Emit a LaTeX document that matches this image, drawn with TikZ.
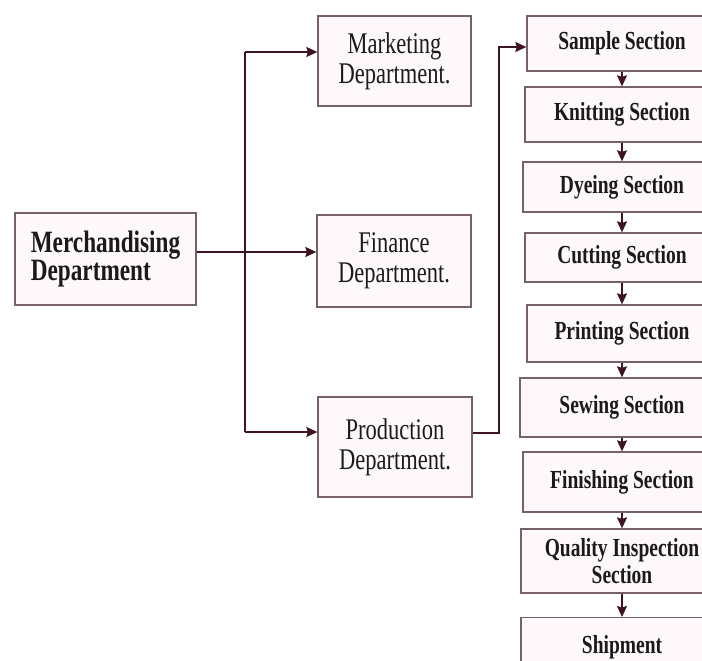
\documentclass[tikz,border=0pt]{standalone}
\usepackage{fontspec}
\setmainfont{Liberation Serif}[FakeStretch=0.75]
\usetikzlibrary{arrows.meta}
\definecolor{boxcol}{HTML}{76606B}
\definecolor{boxfill}{HTML}{FFF8FA}
\definecolor{linecol}{HTML}{3E1424}
\definecolor{txtcol}{HTML}{1A1A1A}
\tikzset{
  box/.style={draw=boxcol, fill=boxfill, line width=1.3pt, inner sep=0pt, text=txtcol, align=center},
  mbox/.style={box, font=\bfseries\fontsize{31}{27}\selectfont, align=left},
  dbox/.style={box, font=\fontsize{30}{30}\selectfont},
  sbox/.style={box, font=\bfseries\fontsize{26}{27}\selectfont},
  conn/.style={draw=linecol, line width=1.5pt},
  arr/.style={conn, -{Stealth[length=11pt,width=10pt,inset=1.5pt]}}
}
\begin{document}
\begin{tikzpicture}[x=1pt,y=-1pt]
\useasboundingbox (0,0) rectangle (702,661);
\fill[white] (0,0) rectangle (702,661);
\clip (0,0) rectangle (702,661);
% left and department boxes
\node[mbox, minimum width=181pt, minimum height=92pt] (merch) at (105.5,259) {Merchandising\\Department};
\node[dbox, minimum width=153pt, minimum height=90pt] (mkt) at (394.5,61) {Marketing\\Department.};
\node[dbox, minimum width=154pt, minimum height=92pt] (fin) at (394,261) {Finance\\Department.};
\node[dbox, minimum width=154pt, minimum height=100pt] (prod) at (395,447) {Production\\Department.};
% section boxes (centred at x=622, right side runs off the picture)
\node[sbox, minimum width=190pt, minimum height=55pt] (s1) at (622,43.5) {Sample Section};
\node[sbox, minimum width=194pt, minimum height=55pt] (s2) at (622,114.5) {Knitting Section};
\node[sbox, minimum width=198pt, minimum height=50pt] (s3) at (622,187) {Dyeing Section};
\node[sbox, minimum width=194pt, minimum height=49pt] (s4) at (622,257.5) {Cutting Section};
\node[sbox, minimum width=190pt, minimum height=57pt] (s5) at (622,333.5) {Printing Section};
\node[sbox, minimum width=204pt, minimum height=59pt] (s6) at (622,407.5) {Sewing Section};
\node[sbox, minimum width=198pt, minimum height=60pt] (s7) at (622,482) {Finishing Section};
\node[sbox, minimum width=202pt, minimum height=64pt] (s8) at (622,561) {Quality Inspection\\Section};
\node[sbox, minimum width=202pt, minimum height=60pt, anchor=north] (s9) at (622,617) {Shipment};
% connectors from merchandising
\coordinate (j1) at (245,52);
\coordinate (j2) at (245,252);
\coordinate (j3) at (245,432);
\draw[conn] (j1) -- (j3);
\draw[arr] (j1) -- (mkt.west |- j1);
\draw[arr] (merch.east |- j2) -- (fin.west |- j2);
\draw[arr] (j3) -- (prod.west |- j3);
% production to sample
\coordinate (p1) at (499,433);
\coordinate (p2) at (499,47);
\draw[arr] (prod.east |- p1) -- (p1) -- (p2) -- (s1.west |- p2);
% chain of sections
\foreach \a/\b in {s1/s2,s2/s3,s3/s4,s4/s5,s5/s6,s6/s7,s7/s8,s8/s9}
  \draw[arr] (\a.south) -- (\b.north);
\end{tikzpicture}
\end{document}
